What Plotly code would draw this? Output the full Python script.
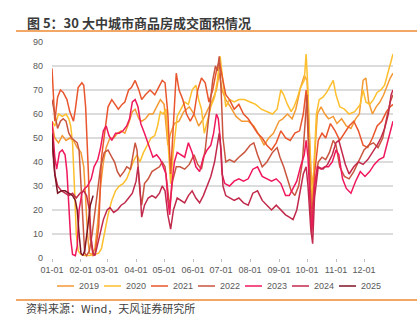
import plotly.graph_objects as go

# ---------------- data (day offset from 01-01, value) ----------------
YEARS = ["2019", "2020", "2021", "2022", "2023", "2024", "2025"]
COLORS = ["#F39A35", "#FDBF2D", "#E9552C", "#C9553F", "#F0185C", "#C22A4C", "#7E1424"]

MONTH_DAYS = [0, 31, 59, 90, 120, 151, 181, 212, 243, 273, 304, 334]
MONTH_LABELS = ["01-01", "02-01", "03-01", "04-01", "05-01", "06-01",
                "07-01", "08-01", "09-01", "10-01", "11-01", "12-01"]

D2019 = [0, 3, 7, 11, 15, 19, 23, 27, 31, 34, 36, 38, 40, 43, 46, 49, 52, 55, 58, 62, 66, 70, 74, 78, 82, 86, 89, 93, 96, 100,
         104, 108, 112, 116, 120, 124, 127, 131, 136, 141, 147, 152, 157, 162, 167, 172, 176, 179, 182, 186, 191, 197, 203, 210,
         216, 222, 227, 232, 237, 243, 247, 252, 257, 261, 266, 270, 273, 276, 278, 280, 284, 288, 292, 296, 301, 305, 310, 315,
         320, 325, 329, 333, 336, 339, 343, 347, 351, 355, 359, 362, 365]
V2019 = [56, 50, 48, 51, 49, 50, 49, 46, 44, 38, 25, 10, 2, 1.5, 4, 15, 30, 40, 46, 50, 50, 52, 53, 52, 56, 61, 62, 58, 57, 58,
         60, 60, 63, 66, 64, 47, 52, 56, 57, 61, 63, 60, 55, 58, 62, 66, 70, 77, 70, 66, 63, 59, 57, 57,
         55, 51, 47, 50, 52, 57, 58, 60, 58, 62, 71, 76, 74, 50, 30, 35, 60, 63, 60, 58, 59, 56, 58, 55,
         54, 58, 60, 74, 75, 65, 60, 63, 65, 68, 72, 75, 77]

D2020 = [0, 3, 7, 11, 15, 18, 20, 22, 24, 26, 28, 31, 35, 40, 45, 50, 53, 56, 60, 64, 68, 72, 76, 80, 84, 88, 91, 94, 98, 102,
         106, 110, 113, 116, 119, 122, 125, 127, 130, 134, 138, 142, 146, 150, 154, 157, 160, 163, 167, 170, 174, 177, 180, 183,
         186, 190, 195, 200, 206, 212, 218, 224, 230, 236, 241, 245, 248, 252, 256, 259, 262, 266, 270, 272, 274, 276, 278, 280,
         283, 286, 290, 294, 298, 301, 304, 308, 313, 318, 324, 330, 333, 336, 340, 344, 348, 352, 356, 360, 365]
V2020 = [57, 55, 60, 59, 60, 58, 55, 48, 30, 10, 3, 1.5, 1, 1, 1.5, 2, 4, 10, 18, 24, 28, 30, 31, 33, 37, 41, 43, 40, 44, 47,
         50, 51, 55, 61, 60, 62, 40, 31, 45, 59, 62, 65, 64, 70, 72, 66, 62, 52, 58, 63, 67, 74, 84, 72,
         63, 66, 65, 66, 66, 65, 64, 62, 61, 60, 62, 70, 68, 64, 61, 63, 66, 71, 74, 85, 70, 40, 22, 35,
         60, 66, 67, 69, 72, 74, 68, 63, 62, 60, 61, 64, 70, 65, 64, 66, 69, 70, 72, 78, 85]

D2021 = [0, 3, 6, 9, 12, 16, 19, 23, 25, 28, 32, 34, 36, 39, 41, 44, 46, 50, 53, 57, 60, 64, 68, 71, 75, 78, 82, 85, 89, 93,
         96, 100, 105, 110, 114, 118, 121, 124, 127, 130, 133, 136, 140, 144, 148, 152, 156, 160, 164, 168, 172, 176, 179, 182,
         186, 190, 195, 200, 205, 210, 215, 220, 225, 230, 235, 240, 245, 250, 255, 260, 265, 269, 272, 275, 278, 281, 285, 289,
         293, 298, 303, 308, 313, 318, 323, 328, 333, 338, 343, 348, 353, 358, 362, 365]
V2021 = [79, 57, 67, 70, 69, 66, 61, 57, 62, 71, 73, 72, 63, 35, 8, 1, 1.5, 13, 42, 55, 63, 66, 64, 62, 64, 65, 70, 71, 74, 70,
         66, 68, 70, 68, 71, 74, 73, 60, 35, 55, 77, 70, 66, 60, 57, 60, 70, 75, 73, 65, 70, 78, 82, 76,
         68, 66, 62, 64, 60, 58, 55, 52, 50, 47, 45, 48, 53, 50, 49, 52, 53, 60, 70, 45, 15, 35, 49, 52,
         50, 56, 53, 49, 52, 55, 57, 53, 47, 46, 50, 55, 57, 61, 63, 64]

D2022 = [0, 3, 6, 9, 12, 15, 18, 21, 24, 27, 29, 31, 33, 35, 37, 40, 43, 46, 49, 52, 56, 60, 64, 67, 70, 73, 77, 80, 84, 87,
         89, 91, 94, 96, 99, 103, 107, 111, 115, 118, 121, 124, 126, 129, 133, 137, 142, 147, 152, 156, 160, 164, 168, 172, 175,
         177, 179, 181, 183, 186, 190, 195, 200, 206, 212, 216, 220, 225, 230, 236, 241, 244, 248, 252, 256, 260, 264, 268, 271,
         273, 275, 278, 281, 285, 289, 293, 297, 301, 304, 308, 313, 318, 323, 328, 334, 339, 344, 349, 354, 358, 362, 365]
V2022 = [66, 60, 54, 57, 58, 57, 52, 50, 49, 48, 45, 30, 12, 2, 1, 3, 10, 20, 30, 38, 44, 45, 42, 40, 36, 34, 36, 38, 37, 43,
         48, 45, 28, 22, 31, 33, 36, 37, 38, 40, 38, 28, 21, 32, 38, 38, 37, 39, 43, 39, 37, 45, 60, 74, 80,
         78, 84, 70, 50, 40, 41, 40, 42, 44, 47, 48, 43, 38, 40, 44, 46, 42, 38, 33, 28, 26, 30, 40, 60,
         68, 45, 12, 30, 40, 42, 41, 44, 49, 47, 38, 34, 33, 36, 40, 45, 47, 48, 46, 50, 58, 65, 68]

D2023 = [0, 3, 5, 8, 11, 14, 16, 18, 20, 22, 25, 27, 29, 32, 35, 38, 42, 45, 49, 52, 55, 58, 61, 64, 68, 72, 76, 80, 83, 86,
         89, 92, 95, 99, 104, 108, 112, 116, 119, 122, 124, 126, 128, 131, 134, 138, 142, 146, 150, 154, 158, 162, 166, 170, 173,
         176, 178, 180, 182, 185, 190, 195, 200, 205, 210, 215, 220, 225, 230, 235, 240, 245, 250, 254, 258, 262, 266, 270, 272,
         274, 276, 278, 281, 284, 288, 292, 296, 300, 304, 307, 311, 315, 320, 325, 330, 335, 340, 345, 350, 355, 359, 362, 365]
V2023 = [57, 42, 37, 44, 45, 43, 36, 22, 8, 1.5, 1, 5, 20, 27, 29, 30, 33, 38, 41, 46, 53, 55, 51, 49, 52, 52, 53, 55, 58, 65,
         66, 63, 56, 52, 46, 42, 43, 41, 38, 35, 24, 18, 30, 40, 44, 43, 42, 48, 44, 38, 36, 42, 45, 47, 52,
         60, 58, 50, 35, 31, 30, 32, 33, 32, 33, 37, 38, 34, 33, 32, 33, 31, 26, 26, 29, 32, 38, 43, 49,
         42, 25, 10, 30, 38, 37, 38, 38, 40, 45, 43, 33, 29, 27, 32, 36, 34, 36, 39, 41, 42, 48, 53, 57]

D2024 = [0, 3, 6, 10, 14, 18, 22, 26, 30, 34, 37, 40, 42, 44, 46, 49, 52, 55, 59, 62, 66, 70, 74, 78, 82, 86, 90, 92, 94, 96,
         99, 103, 107, 111, 115, 118, 121, 124, 127, 130, 134, 138, 142, 146, 150, 154, 158, 162, 166, 170, 174, 177, 179, 181,
         183, 186, 190, 195, 200, 205, 210, 215, 220, 225, 230, 235, 240, 245, 250, 254, 258, 262, 266, 269, 272, 274, 277, 279,
         281, 285, 290, 295, 300, 304, 307, 310, 314, 318, 323, 328, 333, 338, 343, 348, 352, 356, 360, 363, 365]
V2024 = [48, 35, 30, 28, 27, 26, 27, 25, 27, 28, 26, 20, 8, 2, 1, 6, 12, 16, 20, 21, 19, 20, 22, 23, 25, 27, 32, 38, 30, 17,
         22, 25, 26, 25, 27, 30, 28, 18, 12, 20, 25, 24, 23, 26, 28, 25, 23, 26, 30, 34, 40, 47, 52, 45,
         30, 26, 25, 24, 25, 23, 22, 27, 28, 24, 22, 20, 22, 20, 18, 17, 16, 20, 28, 35, 38, 30, 12, 6,
         25, 38, 37, 39, 43, 48, 49, 45, 39, 35, 38, 40, 39, 41, 44, 47, 50, 54, 60, 68, 70]

D2025 = [0, 3, 6, 10, 14, 18, 22, 25, 27, 29, 31, 33, 35, 38, 41, 44]
V2025 = [52, 35, 27, 28, 28, 27, 26, 24, 20, 10, 2, 1, 3, 12, 22, 26]

SERIES_D = [D2019, D2020, D2021, D2022, D2023, D2024, D2025]
SERIES_V = [V2019, V2020, V2021, V2022, V2023, V2024, V2025]

TITLE = "图 5：30 大中城市商品房成交面积情况"
SOURCE = "资料来源：Wind，天风证券研究所"

# ---------------- figure ----------------
W, H = 420, 330
ML, MR, MT, MB = 52, 27, 42, 72
PW, PH = W - ML - MR, H - MT - MB


def px(xp):
    return (xp - ML) / PW


def py(yp):
    return (H - MB - yp) / PH


fig = go.Figure()
for name, d, v, c in zip(YEARS, SERIES_D, SERIES_V, COLORS):
    fig.add_trace(go.Scatter(x=d, y=v, mode="lines", name=name,
                             line=dict(color=c, width=1.5), showlegend=False,
                             hoverinfo="skip"))

FONT = "Liberation Sans, Arial, sans-serif"
CJK = "Noto Sans CJK SC, sans-serif"
GRAY = "#595959"

fig.update_layout(
    width=W, height=H, autosize=False,
    margin=dict(l=ML, r=MR, t=MT, b=MB, pad=0),
    paper_bgcolor="white", plot_bgcolor="white",
    font=dict(family=FONT, size=9, color=GRAY),
    xaxis=dict(range=[0, 365], tickmode="array", tickvals=MONTH_DAYS, ticktext=MONTH_LABELS,
               showgrid=False, zeroline=False, showline=False, tickangle=0,
               ticks="outside", ticklen=3, tickcolor="#BFBFBF", tickwidth=1,
               tickfont=dict(size=9, color=GRAY, family=FONT)),
    yaxis=dict(range=[0, 90], dtick=10, tick0=0, showgrid=True, gridcolor="#DCDCDC", gridwidth=1.5,
               zeroline=False, showline=False, ticks="", ticklabelstandoff=8,
               tickfont=dict(size=9, color=GRAY, family=FONT)),
)

shapes = []
annotations = []
# title and source rules
RULE = "#EE8A34"
for yy in (31, 300):
    shapes.append(dict(type="line", xref="paper", yref="paper", x0=px(16), x1=px(417), y0=py(yy), y1=py(yy),
                       line=dict(color=RULE, width=1.5)))
annotations.append(dict(text=TITLE, xref="paper", yref="paper", x=px(25), y=py(22), xanchor="left", yanchor="middle",
                        showarrow=False, font=dict(family=CJK, size=13, color="#3A3A3A", weight="bold")))
annotations.append(dict(text=SOURCE, xref="paper", yref="paper", x=px(24), y=py(308), xanchor="left", yanchor="middle",
                        showarrow=False, font=dict(family=CJK, size=11, color="#404040")))

# legend
LEG_X0, LEG_STEP, LEG_Y, SEG = 57, 47, 286, 17
for i, (name, c) in enumerate(zip(YEARS, COLORS)):
    x0 = LEG_X0 + i * LEG_STEP
    shapes.append(dict(type="line", xref="paper", yref="paper", x0=px(x0), x1=px(x0 + SEG), y0=py(LEG_Y), y1=py(LEG_Y),
                       line=dict(color=c, width=1.5)))
    annotations.append(dict(text=name, xref="paper", yref="paper", x=px(x0 + SEG + 3), y=py(LEG_Y), xanchor="left",
                            yanchor="middle", showarrow=False, font=dict(family=FONT, size=9, color=GRAY)))

fig.update_layout(shapes=shapes, annotations=annotations)
fig.write_html("out.html")
